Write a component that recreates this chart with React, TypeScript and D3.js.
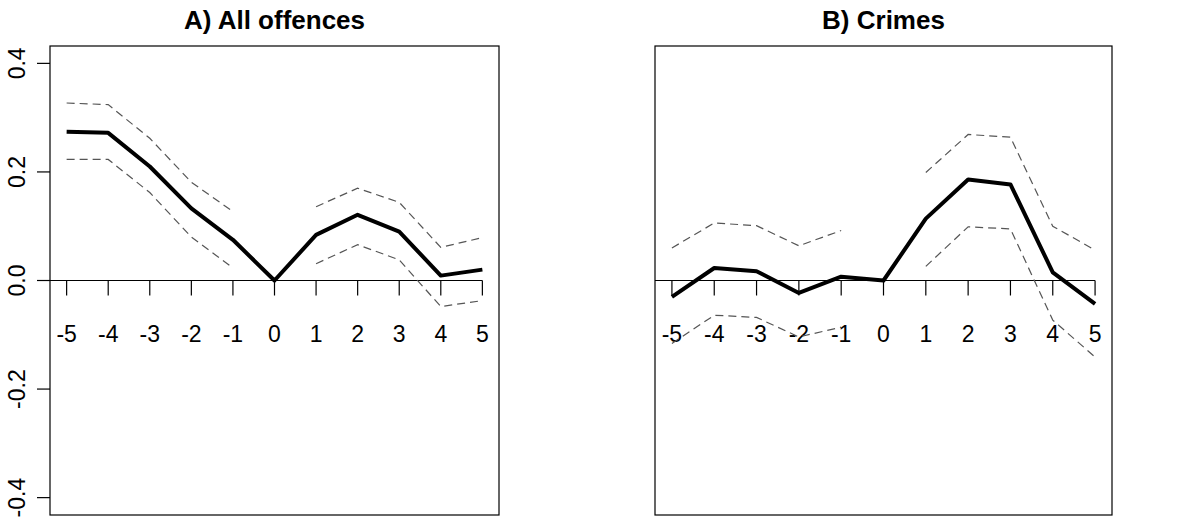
import React from "react";
import * as d3 from "d3";

const periods = [-5, -4, -3, -2, -1, 0, 1, 2, 3, 4, 5];
const yTicks = [-0.4, -0.2, 0.0, 0.2, 0.4];

const titleA = "A) All offences";
const estA = [0.274, 0.272, 0.21, 0.133, 0.075, 0.0, 0.084, 0.121, 0.09, 0.009, 0.02];
const upperA = [0.327, 0.324, 0.262, 0.181, 0.127, null, 0.136, 0.17, 0.144, 0.061, 0.079];
const lowerA = [0.223, 0.223, 0.162, 0.08, 0.023, null, 0.031, 0.066, 0.038, -0.048, -0.037];

const titleB = "B) Crimes";
const estB = [-0.03, 0.023, 0.017, -0.023, 0.007, 0.0, 0.114, 0.186, 0.177, 0.015, -0.043];
const upperB = [0.06, 0.106, 0.101, 0.064, 0.092, null, 0.199, 0.269, 0.264, 0.1, 0.056];
const lowerB = [-0.116, -0.064, -0.068, -0.104, -0.086, null, 0.026, 0.099, 0.095, -0.073, -0.141];

const FONT = "'Liberation Sans', Arial, Helvetica, sans-serif";

type PanelProps = {
  title: string;
  est: number[];
  upper: (number | null)[];
  lower: (number | null)[];
  left: number;
  right: number;
  showY: boolean;
};

const TOP = 46;
const BOTTOM = 515;

function Panel({ title, est, upper, lower, left, right, showY }: PanelProps) {
  const x = d3.scaleLinear().domain([-5.4, 5.4]).range([left, right]);
  const y = d3.scaleLinear().domain([-0.432, 0.432]).range([BOTTOM, TOP]);
  const lineNum = d3
    .line<number | null>()
    .defined((d) => d !== null)
    .x((_, i) => x(periods[i]))
    .y((d) => y(d as number));
  const y0 = y(0);
  return (
    <g>
      <text
        x={(left + right) / 2}
        y={29}
        textAnchor="middle"
        fontFamily={FONT}
        fontWeight="bold"
        fontSize={26}
      >
        {title}
      </text>
      <rect x={left} y={TOP} width={right - left} height={BOTTOM - TOP} fill="none" stroke="#000" strokeWidth={1.2} />
      <line x1={left} x2={x(5)} y1={y0} y2={y0} stroke="#000" strokeWidth={1.2} />
      {periods.map((p) => (
        <g key={p}>
          <line x1={x(p)} x2={x(p)} y1={y0} y2={y0 + 15} stroke="#000" strokeWidth={1.2} />
          <text x={x(p)} y={y0 + 61} textAnchor="middle" fontFamily={FONT} fontSize={23}>
            {String(p)}
          </text>
        </g>
      ))}
      {showY &&
        yTicks.map((t) => (
          <g key={t}>
            <line x1={left - 13} x2={left} y1={y(t)} y2={y(t)} stroke="#000" strokeWidth={1.2} />
            <text
              transform={`translate(${left - 25},${y(t)}) rotate(-90)`}
              textAnchor="middle"
              fontFamily={FONT}
              fontSize={23}
            >
              {t.toFixed(1)}
            </text>
          </g>
        ))}
      <path d={lineNum(upper) || ""} fill="none" stroke="#555" strokeWidth={1.2} strokeDasharray="8,5" />
      <path d={lineNum(lower) || ""} fill="none" stroke="#555" strokeWidth={1.2} strokeDasharray="8,5" />
      <path d={lineNum(est) || ""} fill="none" stroke="#000" strokeWidth={4} strokeLinejoin="round" />
    </g>
  );
}

export default function App() {
  return (
    <svg
      width={1177}
      height={518}
      style={{ position: "absolute", left: 0, top: 0, background: "#fff" }}
    >
      <rect width={1177} height={518} fill="#fff" />
      <Panel title={titleA} est={estA} upper={upperA} lower={lowerA} left={50} right={499} showY={true} />
      <Panel title={titleB} est={estB} upper={upperB} lower={lowerB} left={655} right={1112} showY={false} />
    </svg>
  );
}
